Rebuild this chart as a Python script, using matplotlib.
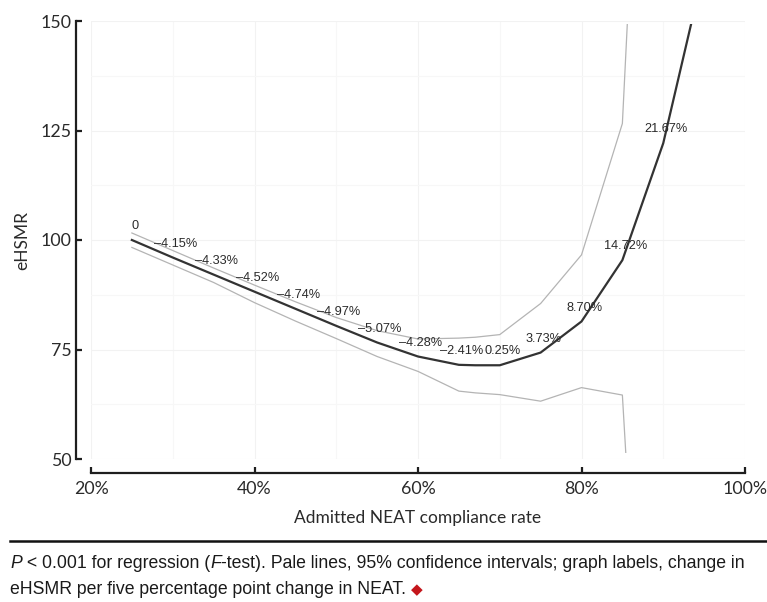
"""eHSMR vs admitted NEAT compliance rate, with 95% CI and per-step change labels."""

import matplotlib
matplotlib.use("Agg")
import matplotlib.pyplot as plt
from matplotlib.patches import Rectangle

# --------------------------------------------------------------- data

compliance = [25, 30, 35, 40, 45, 50, 55, 60, 65, 67, 70, 75, 80, 85, 90, 95]
ehsmr = [100.0, 96.0, 92.1, 88.2, 84.3, 80.4, 76.6, 73.4, 71.5, 71.4, 71.4,
         74.3, 81.4, 95.4, 122.1, 162.0]
ci_upper = [101.6, 97.6, 93.6, 89.7, 85.9, 82.3, 79.3, 77.4, 77.6, 77.8, 78.4,
            85.5, 96.6, 126.6, 315.0, 500.0]
ci_lower = [98.3, 94.3, 90.3, 85.7, 81.5, 77.5, 73.4, 70.0, 65.5, 65.1, 64.7,
            63.2, 66.3, 64.6, -94.0, -200.0]

label_x = [25, 30, 35, 40, 45, 50, 55, 60, 65, 70, 75, 80, 85, 90]
label_y = [100.0, 96.0, 92.1, 88.2, 84.3, 80.4, 76.6, 73.4, 71.5, 71.4, 74.3,
           81.4, 95.4, 122.1]
label_text = ["0", "–4.15%", "–4.33%", "–4.52%", "–4.74%", "–4.97%", "–5.07%",
              "–4.28%", "–2.41%", "0.25%", "3.73%", "8.70%", "14.72%", "21.67%"]

x_ticks = [20, 40, 60, 80, 100]
x_ticklabels = ["20%", "40%", "60%", "80%", "100%"]
y_ticks = [50, 75, 100, 125, 150]
x_minor = [30, 50, 70, 90]
y_minor = [62.5, 87.5, 112.5, 137.5]

# caption pieces: (text, italic?)
caption_1 = [("P", True), (" < 0.001 for regression (", False), ("F", True),
             ("-test). Pale lines, 95% confidence intervals; graph labels, change in", False)]
caption_2 = [("eHSMR per five percentage point change in NEAT.", False)]

# --------------------------------------------------------------- figure

W, H = 767, 602
fig = plt.figure(figsize=(W / 100, H / 100), dpi=100)
ax = fig.add_axes([91 / W, 1 - 459 / H, (745 - 91) / W, (459 - 21) / H])

tick_font = "Lato"
ax.set_xlim(20, 100)
ax.set_ylim(50, 150)

# faint panel grid
ax.set_xticks(x_minor, minor=True)
ax.set_yticks(y_minor, minor=True)
ax.grid(True, which="major", color="#f2f2f2", lw=0.8)
ax.grid(True, which="minor", color="#f7f7f7", lw=0.8)
ax.set_axisbelow(True)

# panel clip (lines stop just inside the axis range)
clip = Rectangle((20, 51.3), 80, 98.0, transform=ax.transData,
                 fill=False, lw=0, visible=False)
ax.add_patch(clip)

for ys in (ci_upper, ci_lower):
    ln, = ax.plot(compliance, ys, color="#b4b4b4", lw=0.9)
    ln.set_clip_path(clip)
main, = ax.plot(compliance, ehsmr, color="#333333", lw=1.6)
main.set_clip_path(clip)

for x, y, t in zip(label_x, label_y, label_text):
    ax.annotate(t, (x, y), xytext=(2, 10), textcoords="offset points",
                ha="center", va="center", fontsize=9.2, color="#2a2a2a",
                family="Liberation Sans")

# offset spines, inward ticks
for side in ("top", "right"):
    ax.spines[side].set_visible(False)
ax.spines["left"].set_position(("outward", 11))
ax.spines["bottom"].set_position(("outward", 10))
ax.spines["left"].set_bounds(50, 150)
ax.spines["bottom"].set_bounds(20, 100)
for side in ("left", "bottom"):
    ax.spines[side].set_linewidth(1.6)
    ax.spines[side].set_color("#1e1e1e")

ax.set_xticks(x_ticks)
ax.set_xticklabels(x_ticklabels)
ax.set_yticks(y_ticks)
ax.tick_params(which="major", direction="in", length=4, width=1.6,
               color="#1e1e1e", labelsize=12.8, labelcolor="#2a2a2a")
ax.tick_params(axis="y", pad=3)
ax.tick_params(axis="x", pad=6)
ax.tick_params(which="minor", length=0)
for lab in ax.get_xticklabels() + ax.get_yticklabels():
    lab.set_family(tick_font)

ax.set_xlabel("Admitted NEAT compliance rate", fontsize=12.5, family=tick_font,
              color="#2a2a2a", labelpad=9)
ax.set_ylabel("eHSMR", fontsize=12.5, family=tick_font, color="#2a2a2a", labelpad=7)

# footer rule and caption
fig.add_artist(plt.Line2D([10 / W, 1.0], [1 - 541 / H] * 2,
                          transform=fig.transFigure, color="#111111", lw=1.8))

fig.canvas.draw()
renderer = fig.canvas.get_renderer()


def _caption_line(pieces, y_px, size):
    """Lay text pieces left to right; returns the artists and right edge in pixels."""
    x_px = 10
    arts = []
    for txt, italic in pieces:
        t = fig.text(x_px / W, 1 - y_px / H, txt, fontsize=size, family="Liberation Sans",
                     style="italic" if italic else "normal",
                     color="#1a1a1a", va="center")
        arts.append(t)
        x_px = t.get_window_extent(renderer).x1
    return arts, x_px


# size the caption so the first line spans the same width as the source
probe, right = _caption_line(caption_1, 563, 10.0)
for t in probe:
    t.remove()
cap_size = 10.0 * (745 - 10) / (right - 10)
_caption_line(caption_1, 563, cap_size)
_, end = _caption_line(caption_2, 590, cap_size)

# red diamond after the second caption line
fig.text((end + 5) / W, 1 - 590 / H, "◆", fontsize=11,
         color="#c4161c", va="center", family="DejaVu Sans")

fig.savefig("out.png", dpi=100)
